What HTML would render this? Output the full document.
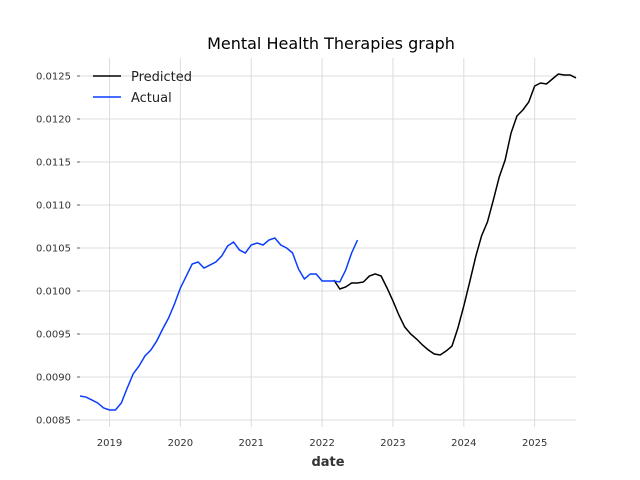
<!DOCTYPE html>
<html><head><meta charset="utf-8"><style>
body{margin:0;background:#fff;}
svg{display:block;font-family:"DejaVu Sans","Liberation Sans",sans-serif;}
</style></head><body>
<svg id="chart" width="640" height="480" viewBox="0 0 640 480" xmlns="http://www.w3.org/2000/svg">
<text x="331" y="49" text-anchor="middle" font-size="16" fill="#000">Mental Health Therapies graph</text>
<g id="grid"></g>
<g id="yaxis"></g>
<g id="xaxis"></g>
<g id="series"></g>
<text x="328" y="466" text-anchor="middle" font-size="13" font-weight="bold" fill="#333">date</text>
<g>
<g><line x1="93" y1="76" x2="121" y2="76" stroke="#000" stroke-width="1.5"/><text x="131" y="81" font-size="13" fill="#222">Predicted</text></g>
<g><line x1="93" y1="97" x2="121" y2="97" stroke="#0a3dff" stroke-width="1.5"/><text x="131" y="102" font-size="13" fill="#222">Actual</text></g>
</g>
</svg>
<script>
const actualStart = 2018 + 7/12;
const actualValues = [0.008779,0.008767,0.008733,0.008698,0.008640,0.008616,0.008616,0.008698,0.008872,0.009035,0.009128,0.009244,0.009314,0.009419,0.009558,0.009686,0.009849,0.010035,0.010174,0.010314,0.010337,0.010267,0.010302,0.010337,0.010407,0.010523,0.010570,0.010477,0.010442,0.010535,0.010558,0.010535,0.010593,0.010616,0.010535,0.010500,0.010442,0.010256,0.010140,0.010198,0.010198,0.010116,0.010116,0.010116,0.010105,0.010244,0.010442,0.010593];
const predStart = 2022 + 2/12;
const predValues = [0.010128,0.010023,0.010047,0.010093,0.010093,0.010105,0.010174,0.010198,0.010174,0.010035,0.009884,0.009721,0.009581,0.009500,0.009442,0.009372,0.009314,0.009267,0.009256,0.009302,0.009360,0.009570,0.009826,0.010105,0.010395,0.010640,0.010802,0.011058,0.011326,0.011523,0.011837,0.012035,0.012105,0.012198,0.012384,0.012419,0.012407,0.012465,0.012523,0.012512,0.012512,0.012477];
const yTicks = [0.0085,0.0090,0.0095,0.0100,0.0105,0.0110,0.0115,0.0120,0.0125];
const yTickLabels = ["0.0085","0.0090","0.0095","0.0100","0.0105","0.0110","0.0115","0.0120","0.0125"];
const xTicks = [2019,2020,2021,2022,2023,2024,2025];

const L=80,R=576,T=58,B=427;
const x0=2018+7/12, x1=2025+7/12;
function xs(t){return L+(t-x0)/(x1-x0)*(R-L);}
function ys(v){return 420-(v-0.0085)/0.004*(420-76);}
const NS="http://www.w3.org/2000/svg";
function mk(tag,attrs,parent){const e=document.createElementNS(NS,tag);for(const k in attrs)e.setAttribute(k,attrs[k]);parent.appendChild(e);return e;}
const grid=document.getElementById('grid'),ya=document.getElementById('yaxis'),xa=document.getElementById('xaxis'),ser=document.getElementById('series');
yTicks.forEach((v,i)=>{
  const y=ys(v);
  const g=mk('line',{x1:L,x2:R,y1:y,y2:y,stroke:'#dcdcdc','stroke-width':1},grid);
  
  
  const tk=mk('line',{x1:77,x2:80,y1:y,y2:y,stroke:'#333','stroke-width':0.8},ya);
  
  
  const t=mk('text',{x:71,y:y+3.5,'text-anchor':'end','font-size':10,fill:'#333'},ya);
  t.textContent=yTickLabels[i];
  
  
});
xTicks.forEach(yr=>{
  const x=xs(yr);
  const g=mk('line',{x1:x,x2:x,y1:T,y2:B,stroke:'#dcdcdc','stroke-width':1},grid);
  
  
  const t=mk('text',{x:x,y:446,'text-anchor':'middle','font-size':10,fill:'#333'},xa);
  t.textContent=String(yr);
  
  
});
function path(start,vals){return vals.map((v,i)=>(i?'L':'M')+xs(start+i/12).toFixed(2)+','+ys(v).toFixed(2)).join(' ');}
const pp=mk('path',{d:path(predStart,predValues),fill:'none',stroke:'#000','stroke-width':1.5},ser);


const ap=mk('path',{d:path(actualStart,actualValues),fill:'none',stroke:'#0a3dff','stroke-width':1.5},ser);


</script>
</body></html>
